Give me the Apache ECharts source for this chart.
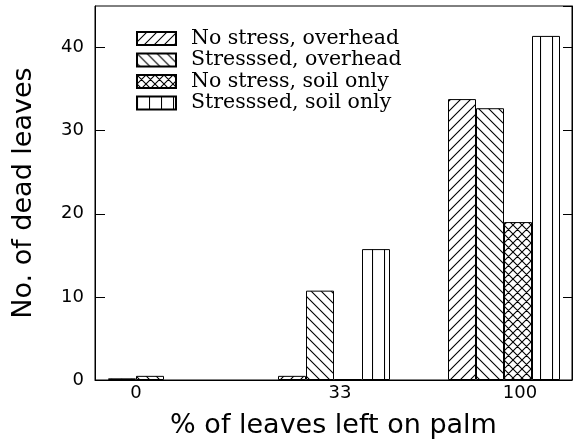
<!DOCTYPE html>
<html>
<head>
<meta charset="utf-8">
<script src="https://cdn.jsdelivr.net/npm/echarts@6/dist/echarts.min.js"></script>
<style>
html,body{margin:0;padding:0;background:#fff;}
#chart{width:579px;height:443px;}
</style>
</head>
<body>
<div id="chart"></div>
<script>
// ---- data ----
var categories = ['0', '33', '100'];
var seriesNames = ['No stress, overhead', 'Stresssed, overhead', 'No stress, soil only', 'Stresssed, soil only'];
var noStressOverhead = [0.2, 0.5, 33.8];
var stressedOverhead = [0.5, 10.75, 32.7];
var noStressSoil = [null, 0.1, 19.0];
var stressedSoil = [null, 15.75, 41.4];
var yTicks = [0, 10, 20, 30, 40];
var yMax = 45;

// ---- hatch patterns ----
function tile(w, h, draw) {
  var c = document.createElement('canvas');
  c.width = w; c.height = h;
  var g = c.getContext('2d');
  g.fillStyle = '#fff'; g.fillRect(0, 0, w, h);
  g.strokeStyle = '#000'; g.lineWidth = 1.1;
  g.beginPath(); draw(g, w, h); g.stroke();
  return { image: c, repeat: 'repeat' };
}
function fwd(g, s) { // "/"
  [0, s, 2 * s].forEach(function (c) { g.moveTo(-1, c + 1); g.lineTo(c + 1, -1); });
}
function back(g, s) { // "\"
  [-s, 0, s].forEach(function (c) { g.moveTo(-1, c - 1); g.lineTo(s + 1, c + s + 1); });
}
var patFwd = tile(10, 10, function (g, w) { fwd(g, w); });
var patBack = tile(10, 10, function (g, w) { back(g, w); });
var patCross = tile(9, 9, function (g, w) { fwd(g, w); back(g, w); });
var patVert = tile(12, 4, function (g, w, h) { g.moveTo(0.5, 0); g.lineTo(0.5, h); });
var patterns = [patFwd, patBack, patCross, patVert];
var dataSets = [noStressOverhead, stressedOverhead, noStressSoil, stressedSoil];

var labelShift = { '0': [0, 56, 0, 0], '33': [0, 0, 0, 12], '100': [0, 0, 0, 32] };
var rich = {};
categories.forEach(function (c, i) {
  rich['c' + i] = { padding: labelShift[c], fontFamily: 'DejaVu Sans', fontSize: 18, color: '#000' };
});

var chart = echarts.init(document.getElementById('chart'), null, { renderer: 'canvas' });
var option = {
  backgroundColor: '#fff',
  animation: false,
  grid: [
    { left: 95, top: 6, width: 477, height: 374, show: true, borderColor: '#000', borderWidth: 1,
      backgroundColor: 'transparent', outerBoundsMode: 'none', containLabel: false },
    { left: 79, top: 6, width: 510, height: 374, outerBoundsMode: 'none', containLabel: false }
  ],
  legend: {
    left: 136, top: 28, orient: 'vertical', padding: 0,
    itemWidth: 39, itemHeight: 13, itemGap: 0.5,
    icon: 'rect', selectedMode: false,
    data: seriesNames,
    textStyle: { fontFamily: 'DejaVu Serif', fontSize: 20.5, color: '#000', padding: [0, 0, 0, 10] }
  },
  xAxis: [
    { gridIndex: 0, type: 'value', min: 0, max: 1,
      axisLine: { show: true, lineStyle: { color: '#000', width: 1 } },
      axisTick: { show: false }, axisLabel: { show: false }, splitLine: { show: false },
      name: '% of leaves left on palm', nameLocation: 'middle', nameGap: 32,
      nameTextStyle: { fontFamily: 'DejaVu Sans', fontSize: 27, color: '#000' } },
    { gridIndex: 1, type: 'category', data: categories,
      axisLine: { show: false }, axisTick: { show: false }, splitLine: { show: false },
      axisLabel: { margin: 4, formatter: function (v) { return '{c' + categories.indexOf(v) + '|' + v + '}'; }, rich: rich } }
  ],
  yAxis: [
    { gridIndex: 0, type: 'value', min: yTicks[0], max: yMax, interval: 10, position: 'left',
      axisLine: { show: true, lineStyle: { color: '#000', width: 1 } },
      axisTick: { show: true, inside: true, length: 10, lineStyle: { color: '#000', width: 1 } },
      axisLabel: { margin: 11, showMaxLabel: false, fontFamily: 'DejaVu Sans', fontSize: 18, color: '#000' },
      splitLine: { show: false },
      name: 'No. of dead leaves', nameLocation: 'middle', nameGap: 58,
      nameTextStyle: { fontFamily: 'DejaVu Sans', fontSize: 27, color: '#000' } },
    { gridIndex: 0, type: 'value', min: yTicks[0], max: yMax, interval: 10, position: 'right',
      axisLine: { show: true, lineStyle: { color: '#000', width: 1 } },
      axisTick: { show: true, inside: true, length: 9, lineStyle: { color: '#000', width: 1 } },
      axisLabel: { show: false }, splitLine: { show: false } },
    { gridIndex: 1, type: 'value', min: yTicks[0], max: yMax, show: false }
  ],
  series: seriesNames.map(function (n, i) {
    return {
      name: n, type: 'bar', xAxisIndex: 1, yAxisIndex: 2,
      barWidth: 28, barGap: '0%',
      data: dataSets[i],
      itemStyle: { color: patterns[i], borderColor: '#000', borderWidth: 1 },
      emphasis: { disabled: true }
    };
  })
};
chart.setOption(option);
</script>
</body>
</html>
